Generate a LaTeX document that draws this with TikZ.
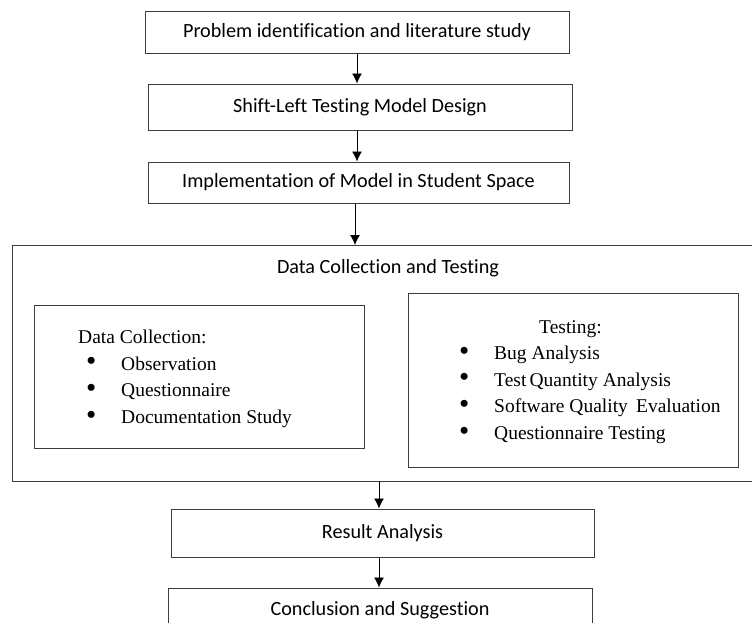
\documentclass[tikz,border=0pt]{standalone}
\usepackage{fontspec}
\setmainfont{Liberation Serif}
\newfontfamily\boxfont[Ligatures=NoCommon]{Carlito}
\usetikzlibrary{arrows.meta,positioning,calc}
\definecolor{edgegray}{HTML}{3C3C3C}
\newcommand{\bw}{424pt}
\newcommand{\snode}[5]{
  \node[stage,minimum width=#2,minimum height=#3] (#5) at #1 {#4};
}
\newcommand{\sedge}[2]{
  \draw[flow] #1 -- #2;
}
\newcommand{\bdot}{\makebox[35pt][l]{\raisebox{-0.5pt}{\scalebox{1.5}{\textbullet}}}}
\newcommand{\blt}{\hspace*{8pt}\bdot}

\begin{document}
\begin{tikzpicture}[x=1pt,y=-1pt,>={Latex[length=10pt,width=10pt]},
  stage/.style={draw=edgegray,line width=1pt,inner sep=0pt,
    font=\boxfont\fontsize{20.2}{24}\selectfont},
  group/.style={draw=edgegray,line width=1pt},
  list/.style={inner sep=0pt,align=left,font=\fontsize{19.5}{26.6}\selectfont},
  flow/.style={->,line width=0.9pt,black}]
  \clip (0,0) rectangle (752,622);

  \snode{(357,32)}{\bw}{42pt}{Problem identification and literature study}{a}
  \snode{(360,107)}{\bw}{46pt}{Shift-Left Testing Model Design}{b}
  \snode{(358.5,182.5)}{421pt}{41pt}{Implementation of Model in Student Space}{c}

  % data collection and testing block
  \draw[group] (12,245) rectangle (758,481);
  \coordinate (dtop) at (384,245);
  \coordinate (dbot) at (384,481);
  \node[font=\boxfont\fontsize{20.2}{24}\selectfont] (dt) at (388,268) {Data Collection and Testing};

  \node[group,minimum width=330pt,minimum height=143pt] (dc) at (199,376.5) {};
  \node[list,anchor=north west] (dcl) at (78,330) {Data Collection:\\
    \blt Observation\\
    \blt Questionnaire\\
    \blt Documentation Study};

  \node[group,minimum width=330pt,minimum height=174pt] (ts) at (573,380) {};
  \node[list,anchor=north west] (tsl) at (459,320) {\hspace*{80pt}Testing:\\
    \bdot Bug Analysis\\
    \bdot Test\,Quantity Analysis\\
    \bdot Software Quality\ \,Evaluation\\
    \bdot Questionnaire Testing};

  \snode{(382.5,533)}{423pt}{48pt}{Result Analysis}{e}
  \snode{(380,610)}{\bw}{44pt}{Conclusion and Suggestion}{f}

  \sedge{(a.south)}{(a.south |- b.north)}
  \sedge{(b.south -| a.south)}{(a.south |- c.north)}
  \sedge{([xshift=-3.5pt]c.south)}{([xshift=-3.5pt]c.south |- dtop)}
  \sedge{([xshift=-3.5pt]e.north |- dbot)}{([xshift=-3.5pt]e.north)}
  \sedge{([xshift=-3.5pt]e.south)}{([xshift=-3.5pt]e.south |- f.north)}
\end{tikzpicture}
\end{document}
